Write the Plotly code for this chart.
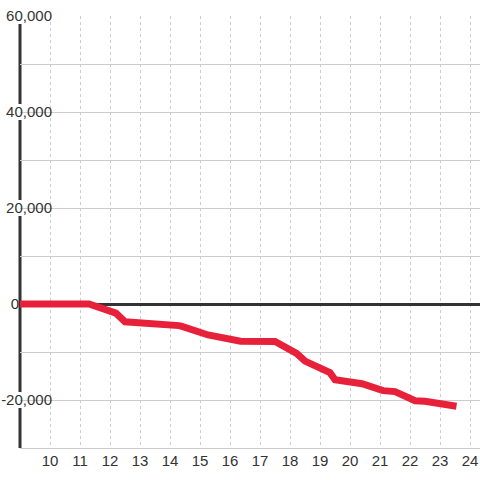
import plotly.graph_objects as go

# ---- data ----
hours = [9.0, 11.3, 12.2, 12.5, 14.3, 14.4, 15.27, 15.45, 16.35, 17.5, 18.22,
         18.5, 19.33, 19.5, 20.4, 21.1, 21.5, 22.17, 22.5, 23.55]
values = [0, 0, -1900, -3700, -4500, -4650, -6450, -6650, -7750, -7800, -10300,
          -11900, -14300, -15800, -16600, -18050, -18250, -20150, -20270, -21300]

x_ticks = list(range(10, 25))
y_grid = list(range(-30000, 60001, 10000))
y_labeled = [60000, 40000, 20000, -20000]
y_text = [f"{v:,}" if v in y_labeled else "" for v in y_grid]

RED = "#E8213A"
DARK = "#333333"
GRID = "#cccccc"
FONT = dict(family="Liberation Sans, Arial, sans-serif", size=15, color=DARK)

fig = go.Figure()
fig.add_trace(go.Scatter(x=hours, y=values, mode="lines",
                         line=dict(color=RED, width=7), cliponaxis=False,
                         hoverinfo="skip", showlegend=False))
# anchor trace for the secondary (zero-label) axis
fig.add_trace(go.Scatter(x=[None], y=[None], yaxis="y2", mode="lines",
                         hoverinfo="skip", showlegend=False))

shapes = [dict(type="line", xref="paper", yref="y", x0=0, x1=0,
               y0=-30000, y1=60000, line=dict(color=DARK, width=3),
               layer="between")]
for t in y_labeled:
    shapes.append(dict(type="rect", xref="paper", yref="y",
                       x0=-0.04, x1=(53 - 20) / 460, y0=t - 1650, y1=t + 1650,
                       fillcolor="white", line=dict(width=0), layer="between"))

fig.update_layout(
    width=480, height=480, autosize=False,
    margin=dict(l=20, r=0, t=16, b=32),
    paper_bgcolor="white", plot_bgcolor="white",
    font=FONT,
    shapes=shapes,
    hovermode=False,
    xaxis=dict(range=[9, 24.333], tickvals=x_ticks, ticktext=[str(v) for v in x_ticks],
               showgrid=True, gridcolor=GRID, griddash="dot", gridwidth=1,
               zeroline=False, showline=True, linecolor=GRID, linewidth=1,
               ticks="", automargin=False, tickfont=FONT, ticklabelstandoff=-1,
               ticklabeloverflow="allow"),
    yaxis=dict(range=[-30000, 60000], tickvals=y_grid, ticktext=y_text,
               showgrid=True, gridcolor=GRID, gridwidth=1,
               zeroline=True, zerolinecolor=DARK, zerolinewidth=3,
               showline=False, ticks="", automargin=False, tickfont=FONT,
               ticklabelstandoff=-33, ticklabeloverflow="allow"),
    yaxis2=dict(range=[-30000, 60000], overlaying="y", side="left",
                tickvals=[0], ticktext=["0"], showgrid=False, zeroline=False,
                showline=False, ticks="", automargin=False, tickfont=FONT,
                ticklabeloverflow="allow"),
)

fig.write_html("out.html", config={"displayModeBar": False},
               post_script="document.body.style.margin='0';document.body.style.overflow='hidden';")
